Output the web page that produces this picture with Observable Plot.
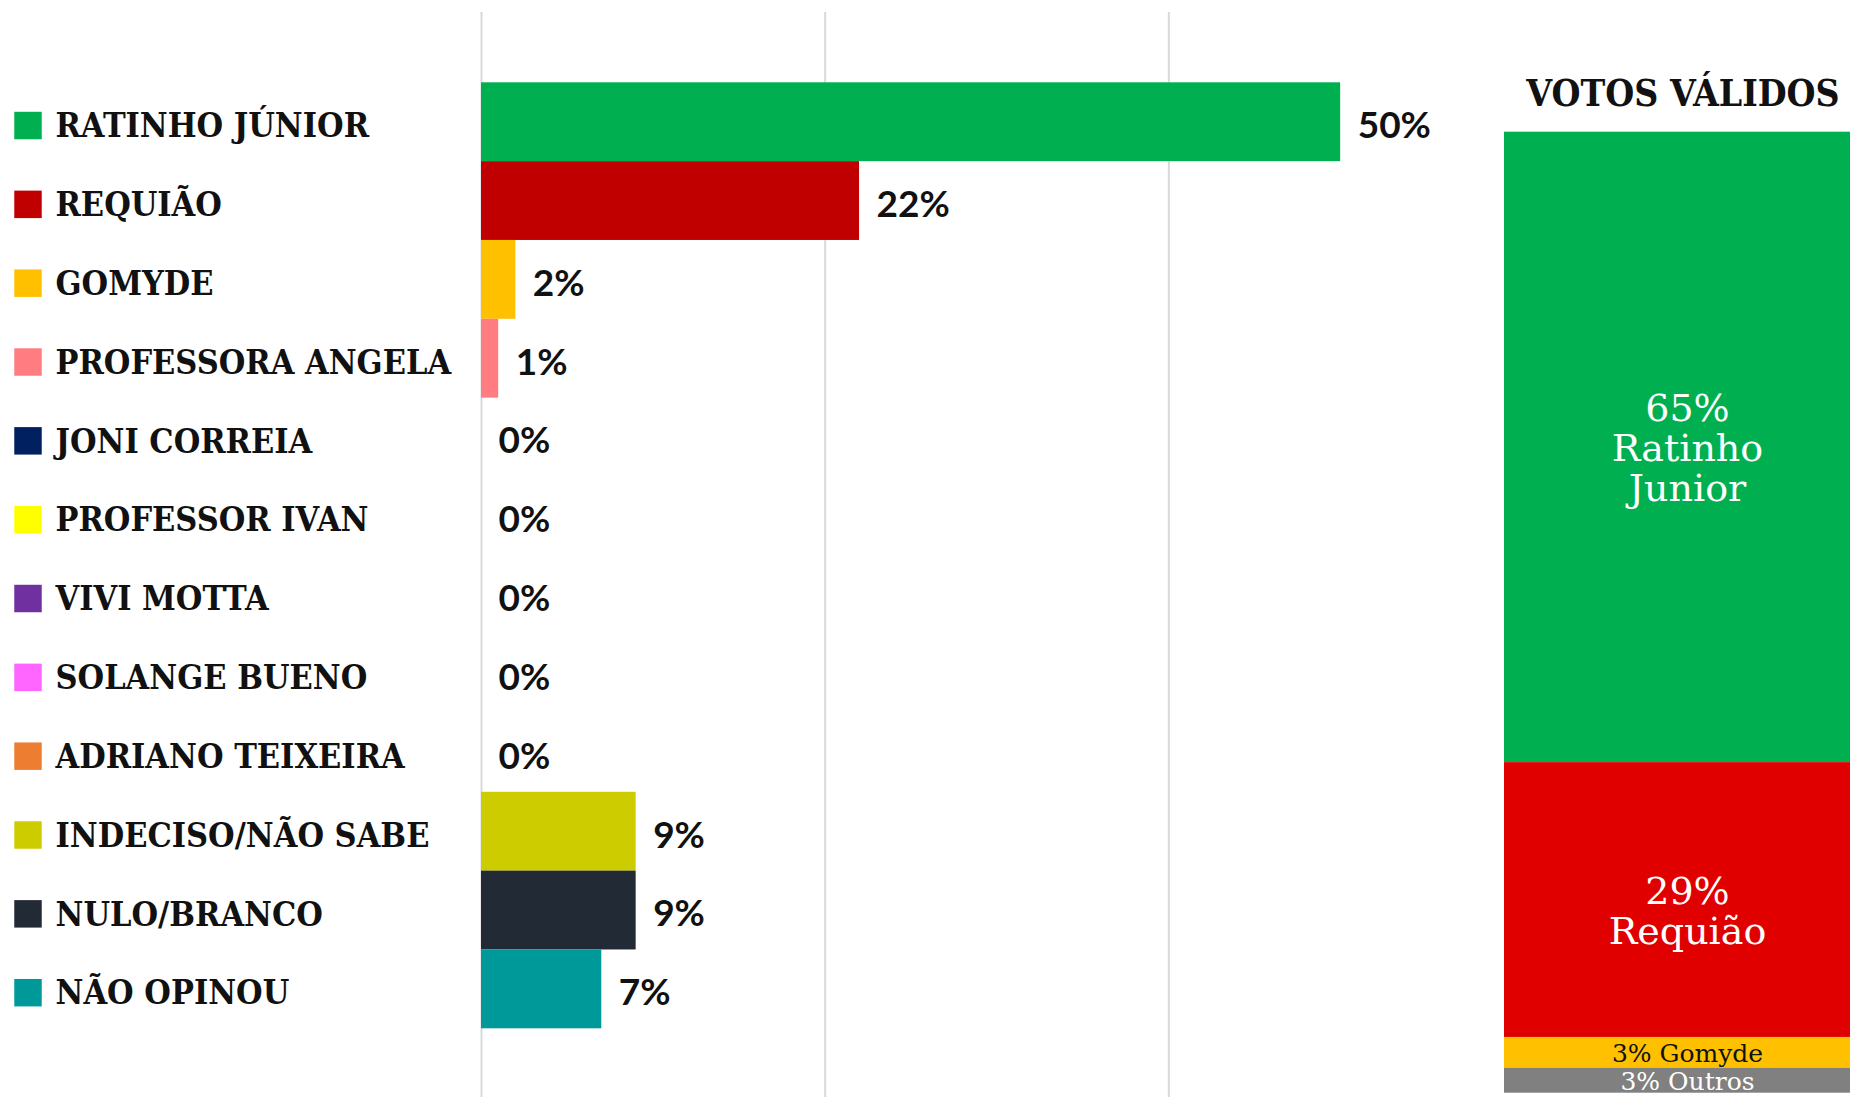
<!DOCTYPE html>
<html>
<head>
<meta charset="utf-8">
<script src="https://cdn.jsdelivr.net/npm/d3@7"></script>
<script src="https://cdn.jsdelivr.net/npm/@observablehq/plot@0.6"></script>
<style>
  html, body { margin: 0; padding: 0; background: #fff; }
  #wrap { position: relative; width: 1850px; height: 1097px; overflow: hidden; background: #fff; }
  #main { position: absolute; left: 0; top: 0; width: 1512px; height: 1097px; }
  #side { position: absolute; left: 1504px; top: 0; width: 366px; height: 1097px; }
  #wrap svg { max-width: none !important; display: block; }
  #sideTitle { position: absolute; left: 1516px; width: 334px; top: 75px; text-align: center; white-space: nowrap;
    font-family: "DejaVu Serif", serif; font-weight: bold; font-stretch: condensed; font-size: 37px; color: #111; line-height: 1; }
</style>
</head>
<body>
<div id="wrap">
  <div id="main"></div>
  <div id="sideTitle">VOTOS VÁLIDOS</div>
  <div id="side"></div>
</div>
<script>
// ---- data: main chart ----
const candidates = [
  "RATINHO JÚNIOR", "REQUIÃO", "GOMYDE", "PROFESSORA ANGELA", "JONI CORREIA",
  "PROFESSOR IVAN", "VIVI MOTTA", "SOLANGE BUENO", "ADRIANO TEIXEIRA",
  "INDECISO/NÃO SABE", "NULO/BRANCO", "NÃO OPINOU"
];
const percentages = [50, 22, 2, 1, 0, 0, 0, 0, 0, 9, 9, 7];
const barColors = [
  "#00b050", "#c00000", "#ffc000", "#ff7c80", "#002060",
  "#ffff00", "#7030a0", "#ff66ff", "#ed7d31",
  "#cccc00", "#222a35", "#009999"
];
const gridTicks = [0, 20, 40];

// ---- data: valid votes panel (segment sizes) ----
const validNames = ["Ratinho Junior", "Requião", "Gomyde", "Outros"];
const validValues = [65.6, 28.6, 3.2, 2.6];
const validColors = ["#00b050", "#e00000", "#ffc000", "#808080"];
const validLabels = ["65%\nRatinho\nJunior", "29%\nRequião", "3% Gomyde", "3% Outros"];
const validTextColors = ["#ffffff", "#ffffff", "#111111", "#ffffff"];

const rows = candidates.map((name, i) => ({name, value: percentages[i], color: barColors[i]}));
const valid = validNames.map((name, i) => ({
  group: "VOTOS VÁLIDOS", name, value: validValues[i], color: validColors[i],
  label: validLabels[i], textColor: validTextColors[i]
}));

const mainPlot = Plot.plot({
  width: 1512,
  height: 1097,
  marginLeft: 481,
  marginRight: 0,
  marginTop: 82.3,
  marginBottom: 68.7,
  x: {domain: [0, 60], axis: null},
  y: {domain: candidates, axis: null, padding: 0, round: false},
  color: {type: "identity"},
  marks: [
    Plot.ruleX(gridTicks, {stroke: "#d9d9d9", strokeWidth: 2, insetTop: -70.3, insetBottom: -68.7}),
    Plot.barX(rows, {x: "value", y: "name", fill: "color"}),
    Plot.text(rows, {
      x: "value", y: "name", text: d => d.value + "%", textAnchor: "start",
      dx: 17, dy: 4, fontSize: 37, fontWeight: "bold", fontFamily: "Lato, sans-serif", fill: "#111"
    }),
    Plot.dot(rows, {
      y: "name", frameAnchor: "left", dx: -453.5, dy: 3.3, symbol: "square", r: 15.5, fill: "color"
    }),
    Plot.text(rows, {
      y: "name", text: "name", frameAnchor: "left", textAnchor: "start", dx: -426, dy: 4.4,
      fontSize: 33, fontWeight: "bold", fontFamily: "DejaVu Serif, serif", fill: "#111"
    })
  ]
});
document.getElementById("main").appendChild(mainPlot);
// narrow the slab-serif legend labels to match the condensed typeface of the original
d3.select(mainPlot).selectAll("text")
  .filter(function() { return candidates.includes(this.textContent); })
  .each(function() {
    const w = this.getComputedTextLength();
    this.setAttribute("textLength", (w * 0.925).toFixed(1));
    this.setAttribute("lengthAdjust", "spacingAndGlyphs");
  });

const stackOpts = {x: "group", y: "value", z: "name"};
const sidePlot = Plot.plot({
  width: 366,
  height: 1097,
  marginLeft: 0,
  marginRight: 0,
  marginTop: 131.7,
  marginBottom: 4.3,
  x: {domain: ["VOTOS VÁLIDOS"], axis: null, padding: 0, round: false},
  y: {domain: [0, 100], reverse: true, axis: null},
  color: {type: "identity"},
  marks: [
    Plot.barY(valid, Plot.stackY({...stackOpts, fill: "color"})),
    Plot.text(valid, Plot.stackY({
      ...stackOpts, text: d => d.name === "Ratinho Junior" ? d.label : "", fill: "textColor",
      fontSize: 38, lineHeight: 1.05, dy: 1, fontFamily: "DejaVu Serif, serif"
    })),
    Plot.text(valid, Plot.stackY({
      ...stackOpts, text: d => d.name === "Requião" ? d.label : "", fill: "textColor",
      fontSize: 38, lineHeight: 1.05, dy: 11, fontFamily: "DejaVu Serif, serif"
    })),
    Plot.text(valid, Plot.stackY({
      ...stackOpts, text: d => (d.name === "Gomyde" || d.name === "Outros") ? d.label : "", fill: "textColor",
      fontSize: 25, dy: 1, fontFamily: "DejaVu Serif, serif"
    }))
  ]
});
document.getElementById("side").appendChild(sidePlot);
</script>
</body>
</html>
